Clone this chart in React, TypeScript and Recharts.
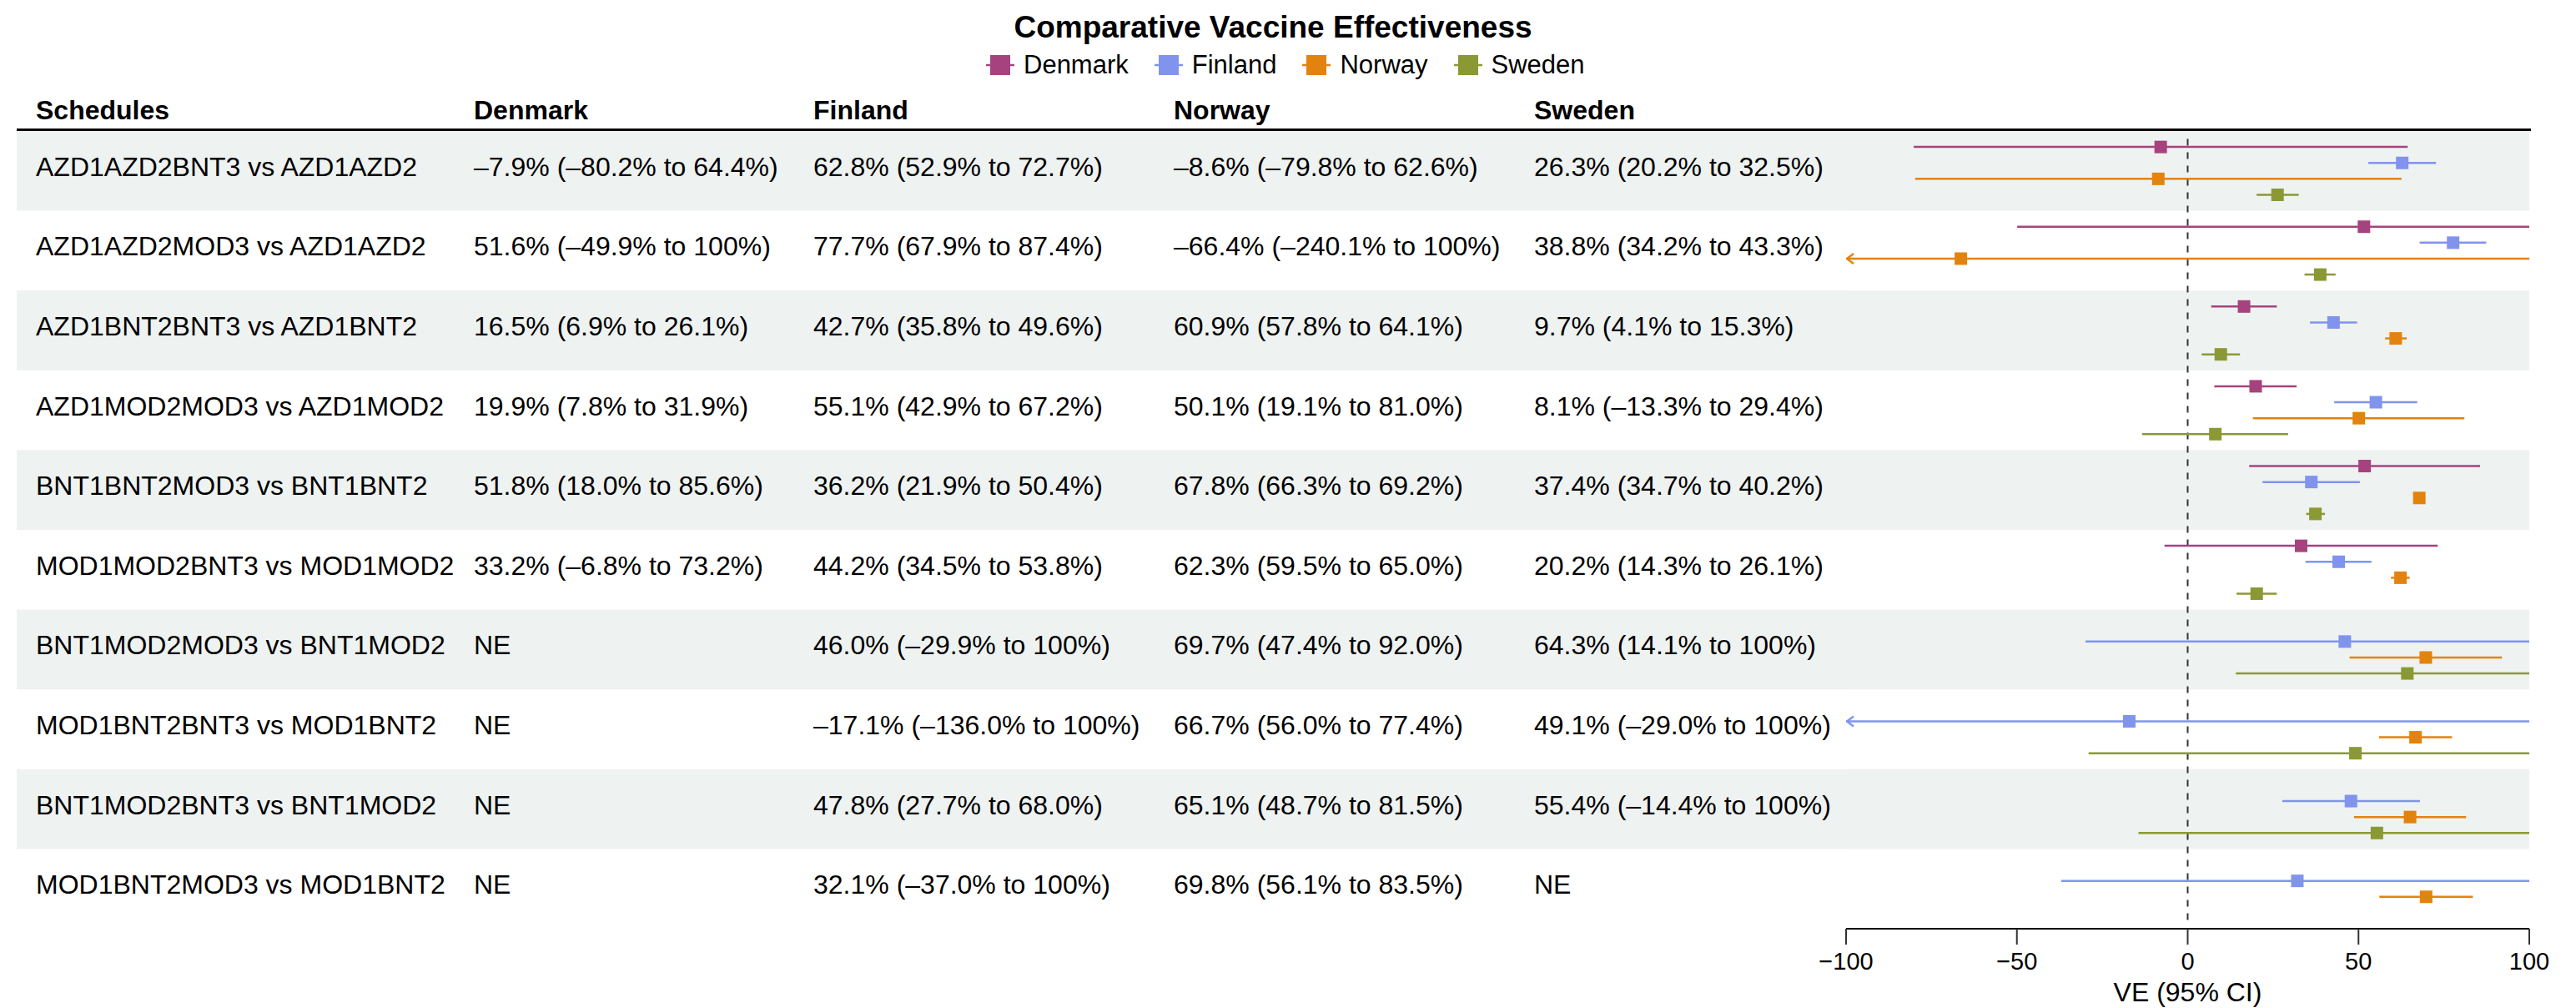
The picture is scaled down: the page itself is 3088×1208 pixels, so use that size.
import React from 'react';
import {
  ComposedChart,
  Scatter,
  ErrorBar,
  XAxis,
  YAxis,
  ReferenceLine,
  ReferenceArea,
  Legend,
} from 'recharts';

// ---------------- data ----------------
const schedules = [
  'AZD1AZD2BNT3 vs AZD1AZD2',
  'AZD1AZD2MOD3 vs AZD1AZD2',
  'AZD1BNT2BNT3 vs AZD1BNT2',
  'AZD1MOD2MOD3 vs AZD1MOD2',
  'BNT1BNT2MOD3 vs BNT1BNT2',
  'MOD1MOD2BNT3 vs MOD1MOD2',
  'BNT1MOD2MOD3 vs BNT1MOD2',
  'MOD1BNT2BNT3 vs MOD1BNT2',
  'BNT1MOD2BNT3 vs BNT1MOD2',
  'MOD1BNT2MOD3 vs MOD1BNT2',
];

const countries = ['Denmark', 'Finland', 'Norway', 'Sweden'];
const countryColors = ['#A6437F', '#8094EE', '#E3830F', '#8B9934'];

type Est = [number, number, number] | null; // [VE, lower, upper]

const denmark: Est[] = [
  [-7.9, -80.2, 64.4],
  [51.6, -49.9, 100],
  [16.5, 6.9, 26.1],
  [19.9, 7.8, 31.9],
  [51.8, 18.0, 85.6],
  [33.2, -6.8, 73.2],
  null,
  null,
  null,
  null,
];
const finland: Est[] = [
  [62.8, 52.9, 72.7],
  [77.7, 67.9, 87.4],
  [42.7, 35.8, 49.6],
  [55.1, 42.9, 67.2],
  [36.2, 21.9, 50.4],
  [44.2, 34.5, 53.8],
  [46.0, -29.9, 100],
  [-17.1, -136.0, 100],
  [47.8, 27.7, 68.0],
  [32.1, -37.0, 100],
];
const norway: Est[] = [
  [-8.6, -79.8, 62.6],
  [-66.4, -240.1, 100],
  [60.9, 57.8, 64.1],
  [50.1, 19.1, 81.0],
  [67.8, 66.3, 69.2],
  [62.3, 59.5, 65.0],
  [69.7, 47.4, 92.0],
  [66.7, 56.0, 77.4],
  [65.1, 48.7, 81.5],
  [69.8, 56.1, 83.5],
];
const sweden: Est[] = [
  [26.3, 20.2, 32.5],
  [38.8, 34.2, 43.3],
  [9.7, 4.1, 15.3],
  [8.1, -13.3, 29.4],
  [37.4, 34.7, 40.2],
  [20.2, 14.3, 26.1],
  [64.3, 14.1, 100],
  [49.1, -29.0, 100],
  [55.4, -14.4, 100],
  null,
];

const xTicks = [-100, -50, 0, 50, 100];
const xDomain: [number, number] = [-100, 100];

// ---------------- derived ----------------
const countryEstimates = [denmark, finland, norway, sweden];
const slotOffsets = [-0.3, -0.1, 0.1, 0.3];
const rowTicks = schedules.map((_, i) => i + 0.5);

const seriesData = countryEstimates.map((arr, ci) =>
  arr.flatMap((e, ri) =>
    e
      ? [
          {
            x: e[0],
            y: ri + 0.5 + slotOffsets[ci],
            err: [
              e[0] - Math.max(e[1], xDomain[0]),
              Math.min(e[2], xDomain[1]) - e[0],
            ],
          },
        ]
      : []
  )
);

const arrowData = countryEstimates.flatMap((arr, ci) =>
  arr.flatMap((e, ri) =>
    e && e[1] < xDomain[0]
      ? [{ x: xDomain[0], y: ri + 0.5 + slotOffsets[ci], ci }]
      : []
  )
);

// ---------------- styling ----------------
const FONT = '"Liberation Sans", Arial, Helvetica, sans-serif';
const BAND = '#EEF2F1';
const W = 3088;
const H = 1208;
const M_TOP = 157;
const M_LEFT = 20;
const Y_W = 2193;
const X_H = 95;
const M_RIGHT = 56;
const ROW_H = (H - M_TOP - X_H) / schedules.length;
const colX = [568, 975, 1407, 1839];

const fmtNum = (v: number) =>
  v === 100 ? '100' : (v < 0 ? '\u2013' : '') + Math.abs(v).toFixed(1);
const fmtCell = (e: Est) =>
  e ? `${fmtNum(e[0])}% (${fmtNum(e[1])}% to ${fmtNum(e[2])}%)` : 'NE';

const RowTick = (props: any) => {
  const { y, payload } = props;
  const ri = Math.round(payload.value - 0.5);
  return (
    <g>
      {ri % 2 === 0 && (
        <rect
          x={M_LEFT}
          y={y - ROW_H / 2}
          width={Y_W}
          height={ROW_H}
          fill={BAND}
        />
      )}
      <text x={43} y={y + 6} fontSize={32} fontFamily={FONT} fill="#000">
        {schedules[ri]}
      </text>
      {countryEstimates.map((arr, ci) => (
        <text
          key={ci}
          x={colX[ci]}
          y={y + 6}
          fontSize={32}
          fontFamily={FONT}
          fill="#000"
        >
          {fmtCell(arr[ri])}
        </text>
      ))}
    </g>
  );
};

const squareShape = (color: string) => (props: any) => {
  const { cx, cy } = props;
  if (cx == null || cy == null) return <g />;
  return <rect x={cx - 7.5} y={cy - 7.5} width={15} height={15} fill={color} />;
};

const arrowShape = (props: any) => {
  const { cx, cy, payload } = props;
  if (cx == null || cy == null) return <g />;
  const color = countryColors[payload.ci];
  return (
    <path
      d={`M${cx + 9},${cy - 6} L${cx + 1},${cy} L${cx + 9},${cy + 6}`}
      stroke={color}
      strokeWidth={2.5}
      fill="none"
    />
  );
};

const renderLegend = (props: any) => {
  const items = (props.payload || []).filter((p: any) =>
    countries.includes(p.value)
  );
  return (
    <div
      style={{
        display: 'flex',
        alignItems: 'center',
        gap: 31,
        fontFamily: FONT,
        fontSize: 31,
        color: '#000',
        whiteSpace: 'nowrap',
      }}
    >
      {items.map((p: any) => (
        <div key={p.value} style={{ display: 'flex', alignItems: 'center' }}>
          <svg width={34} height={24} style={{ display: 'block' }}>
            <line x1={0} x2={34} y1={12} y2={12} stroke={p.color} strokeWidth={2.5} />
            <rect x={5} y={0} width={24} height={24} fill={p.color} />
          </svg>
          <span style={{ marginLeft: 11, lineHeight: '24px' }}>{p.value}</span>
        </div>
      ))}
    </div>
  );
};

const headers = ['Schedules', ...countries];
const headerX = [43, ...colX];

export default function App() {
  return (
    <div
      style={{
        position: 'absolute',
        left: 0,
        top: 0,
        width: W,
        height: H,
        background: '#fff',
      }}
    >
      <ComposedChart
        width={W}
        height={H}
        margin={{ top: M_TOP, right: M_RIGHT, bottom: 0, left: M_LEFT }}
      >
        <XAxis
          type="number"
          dataKey="x"
          domain={xDomain}
          ticks={xTicks}
          allowDataOverflow
          height={X_H}
          tickSize={19}
          tickMargin={9}
          axisLine={{ stroke: '#000', strokeWidth: 2 }}
          tickLine={{ stroke: '#333', strokeWidth: 2 }}
          tick={{ fill: '#000', fontSize: 29, fontFamily: FONT }}
          tickFormatter={(v: number) => (v < 0 ? '\u2212' + Math.abs(v) : String(v))}
          label={{
            value: 'VE (95% CI)',
            position: 'insideBottom',
            offset: 8,
            fill: '#000',
            fontSize: 32,
            fontFamily: FONT,
          }}
        />
        <YAxis
          type="number"
          dataKey="y"
          domain={[0, schedules.length]}
          reversed
          ticks={rowTicks}
          interval={0}
          width={Y_W}
          axisLine={false}
          tickLine={false}
          tick={(p: any) => <RowTick {...p} />}
        />
        {rowTicks
          .filter((_, i) => i % 2 === 0)
          .map((t) => (
            <ReferenceArea
              key={t}
              x1={xDomain[0]}
              x2={xDomain[1]}
              y1={t - 0.5}
              y2={t + 0.5}
              fill={BAND}
              fillOpacity={1}
              stroke="none"
            />
          ))}
        <ReferenceLine
          segment={[
            { x: 0, y: 0.1 },
            { x: 0, y: schedules.length - 0.1 },
          ]}
          stroke="#333"
          strokeWidth={2}
          strokeDasharray="8 8"
        />
        {countries.map((c, ci) => (
          <Scatter
            key={c}
            name={c}
            data={seriesData[ci]}
            fill={countryColors[ci]}
            isAnimationActive={false}
            shape={squareShape(countryColors[ci])}
          >
            <ErrorBar
              dataKey="err"
              direction="x"
              width={0}
              stroke={countryColors[ci]}
              strokeWidth={2.5}
              isAnimationActive={false}
            />
          </Scatter>
        ))}
        <Scatter
          name="truncated"
          data={arrowData}
          legendType="none"
          isAnimationActive={false}
          shape={arrowShape}
        />
        <Legend
          layout="horizontal"
          verticalAlign="middle"
          align="center"
          content={renderLegend}
          wrapperStyle={{ left: 1182, top: 66, width: 'auto', height: 'auto' }}
        />
      </ComposedChart>
      <svg
        width={W}
        height={165}
        style={{ position: 'absolute', left: 0, top: 0, pointerEvents: 'none' }}
      >
        <text
          x={1526}
          y={45}
          textAnchor="middle"
          fontSize={37}
          fontWeight={700}
          fontFamily={FONT}
          fill="#000"
        >
          Comparative Vaccine Effectiveness
        </text>
        {headers.map((h, i) => (
          <text
            key={h}
            x={headerX[i]}
            y={143}
            fontSize={32}
            fontWeight={700}
            fontFamily={FONT}
            fill="#000"
          >
            {h}
          </text>
        ))}
        <line x1={20} x2={3034} y1={155.5} y2={155.5} stroke="#000" strokeWidth={3} />
      </svg>
    </div>
  );
}
